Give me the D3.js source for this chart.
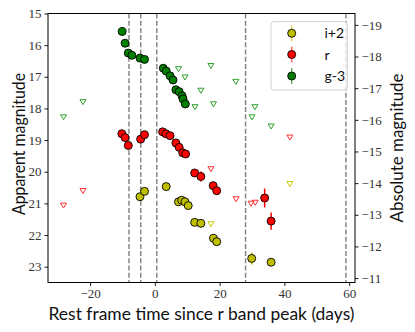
<!DOCTYPE html>
<html><head><meta charset="utf-8">
<script src="https://cdn.jsdelivr.net/npm/d3@7/dist/d3.min.js"></script>
<style>body{margin:0;background:#fff}svg{display:block}</style>
</head><body><svg id="c" width="415" height="332"></svg>
<script>
// ---- data ----
const gDays = [-10.1,-9.2,-8.2,-7.1,-4.6,-3.2,2.6,3.5,4.7,5.6,6.5,7.5,8.4,8.7,9.4];
const gMag  = [15.57,15.94,16.25,16.32,16.41,16.45,16.73,16.82,16.97,17.10,17.41,17.47,17.60,17.70,17.86];
const gErr  = [0.03,0.03,0.03,0.03,0.03,0.03,0.03,0.03,0.04,0.04,0.04,0.04,0.10,0.05,0.05];
const rDays = [-10.2,-9.2,-8.2,-4.4,-3.2,2.4,3.4,4.7,6.5,7.5,8.6,9.5,12.3,14.2,18.0,19.1,33.9,35.9];
const rMag  = [18.80,18.92,19.17,18.97,18.83,18.74,18.80,18.86,19.09,19.23,19.40,19.44,20.04,20.15,20.44,20.60,20.83,21.56];
const rErr  = [0.03,0.03,0.04,0.03,0.03,0.03,0.03,0.03,0.04,0.04,0.04,0.04,0.06,0.16,0.12,0.06,0.30,0.27];
const iDays = [-4.6,-3.2,3.5,7.3,8.3,9.3,10.3,12.3,14.2,18.1,19.1,29.9,35.9];
const iMag  = [20.79,20.62,20.47,20.95,20.90,20.95,21.07,21.60,21.63,22.10,22.21,22.74,22.86];
const iErr  = [0.04,0.04,0.04,0.05,0.05,0.05,0.05,0.06,0.06,0.07,0.07,0.19,0.08];
const gLimDays = [-28.2,-22.2,7.3,9.3,12.4,14.2,17.3,18.1,25.0,30.0,30.9,35.9];
const gLimMag  = [18.28,17.80,16.76,17.02,17.96,17.44,16.66,17.87,17.16,18.28,17.96,18.57];
const rLimDays = [-28.2,-22.2,17.3,25.1,29.7,31.0,41.7];
const rLimMag  = [21.07,20.61,19.92,20.87,21.01,20.98,18.92];
const iLimDays = [17.3,41.7];
const iLimMag  = [21.66,20.39];
const epochs = [-8.0,-4.35,0.6,28.0,59.0];
const xTicks = [-20,0,20,40,60];
const yTicks = [15,16,17,18,19,20,21,22,23];
const absTicks = [-19,-18,-17,-16,-15,-14,-13,-12,-11];
const distMod = 34.36;
const labels = ["i+2","r","g-3"];
const colors = {i:"#bfbf00", r:"#ff0000", g:"#007f00"};

// ---- layout ----
const L=48, R=355, T=13.5, B=282.5;
const svg = d3.select("#c");
const x = d3.scaleLinear().domain([-33,61.8]).range([L,R]);
const y = d3.scaleLinear().domain([15,23.5]).range([T,B]);
const yAbs = d3.scaleLinear().domain([15-distMod,23.5-distMod]).range([T,B]);
const tickFont = "'Liberation Serif','DejaVu Serif',serif";
const sansFont = "Lato,'Open Sans','DejaVu Sans',sans-serif";

// epochs dashed lines
svg.append("g").selectAll("line").data(epochs).join("line")
  .attr("x1",d=>x(d)).attr("x2",d=>x(d)).attr("y1",T).attr("y2",B)
  .attr("stroke","#808080").attr("stroke-width",1.4).attr("stroke-dasharray","5,2.2");

const plot = svg.append("g");
function tri(g, days, mags, col){
  const w=6,h=5;
  g.append("g").selectAll("path").data(days.map((d,i)=>[d,mags[i]])).join("path")
    .attr("d",d=>{const cx=x(d[0]),cy=y(d[1]);return `M${cx-w/2},${cy-h/2}L${cx+w/2},${cy-h/2}L${cx},${cy+h/2}Z`;})
    .attr("fill","none").attr("stroke",col).attr("stroke-width",1);
}
function det(g, days, mags, errs, col){
  const data = days.map((d,i)=>[d,mags[i],errs[i]]);
  const gg = g.append("g");
  gg.selectAll("line").data(data).join("line")
    .attr("x1",d=>x(d[0])).attr("x2",d=>x(d[0]))
    .attr("y1",d=>y(d[1]-d[2])).attr("y2",d=>y(d[1]+d[2]))
    .attr("stroke",col).attr("stroke-width",1.5);
  gg.selectAll("circle").data(data).join("circle")
    .attr("cx",d=>x(d[0])).attr("cy",d=>y(d[1])).attr("r",4)
    .attr("fill",col).attr("stroke","#000").attr("stroke-width",0.9);
}
tri(plot,gLimDays,gLimMag,"#2ca02c");
tri(plot,rLimDays,rLimMag,"#ff3030");
tri(plot,iLimDays,iLimMag,"#c8c800");
det(plot,iDays,iMag,iErr,colors.i);
det(plot,rDays,rMag,rErr,colors.r);
det(plot,gDays,gMag,gErr,colors.g);

// frame
svg.append("rect").attr("x",L).attr("y",T).attr("width",R-L).attr("height",B-T)
  .attr("fill","none").attr("stroke","#000").attr("stroke-width",1);

// axes
const ax = svg.append("g").attr("transform",`translate(0,${B})`)
  .call(d3.axisBottom(x).tickValues(xTicks).tickSize(3.5).tickPadding(3).tickFormat(d=>d<0?"\u2212"+Math.abs(d):d));
const ay = svg.append("g").attr("transform",`translate(${L},0)`)
  .call(d3.axisLeft(y).tickValues(yTicks).tickSize(3.5).tickPadding(3));
const ar = svg.append("g").attr("transform",`translate(${R},0)`)
  .call(d3.axisRight(yAbs).tickValues(absTicks).tickSize(3.5).tickPadding(3).tickFormat(d=>"\u2212"+Math.abs(d)));
[ax,ay,ar].forEach(a=>{
  a.select(".domain").remove();
  a.selectAll(".tick line").attr("stroke","#000").attr("stroke-width",0.9);
  a.selectAll(".tick text").attr("font-family",tickFont).attr("font-size",13).attr("fill","#333");
});

// axis labels
svg.append("text").attr("x",(L+R)/2).attr("y",320).attr("text-anchor","middle")
  .attr("font-family",sansFont).attr("font-size",16.5).attr("fill","#111")
  .attr("textLength",306).attr("lengthAdjust","spacingAndGlyphs")
  .text("Rest frame time since r band peak (days)");
svg.append("text").attr("transform",`translate(25,${(T+B)/2-4}) rotate(-90)`).attr("text-anchor","middle")
  .attr("font-family",sansFont).attr("font-size",17).attr("fill","#111")
  .attr("textLength",142).attr("lengthAdjust","spacingAndGlyphs")
  .text("Apparent magnitude");
svg.append("text").attr("transform",`translate(403,${(T+B)/2}) rotate(-90)`).attr("text-anchor","middle")
  .attr("font-family",sansFont).attr("font-size",17).attr("fill","#111")
  .attr("textLength",149).attr("lengthAdjust","spacingAndGlyphs")
  .text("Absolute magnitude");

// legend
const lg = svg.append("g");
lg.append("rect").attr("x",271).attr("y",21.7).attr("width",76.3).attr("height",68.3).attr("rx",3)
  .attr("fill","#fff").attr("fill-opacity",0.8).attr("stroke","#d0d0d0").attr("stroke-width",1);
const lcols=[colors.i,colors.r,colors.g];
const lys=[33.3,54.5,76];
labels.forEach((t,i)=>{
  lg.append("line").attr("x1",291.7).attr("x2",291.7).attr("y1",lys[i]-8).attr("y2",lys[i]+8)
    .attr("stroke",lcols[i]).attr("stroke-width",1.5).attr("stroke-opacity",0.6);
  lg.append("circle").attr("cx",291.7).attr("cy",lys[i]).attr("r",4)
    .attr("fill",lcols[i]).attr("stroke","#000").attr("stroke-width",0.9);
  lg.append("text").attr("x",324.5).attr("y",lys[i]+5).attr("font-family",sansFont)
    .attr("font-size",14).attr("fill","#111").text(t);
});
</script></body></html>
